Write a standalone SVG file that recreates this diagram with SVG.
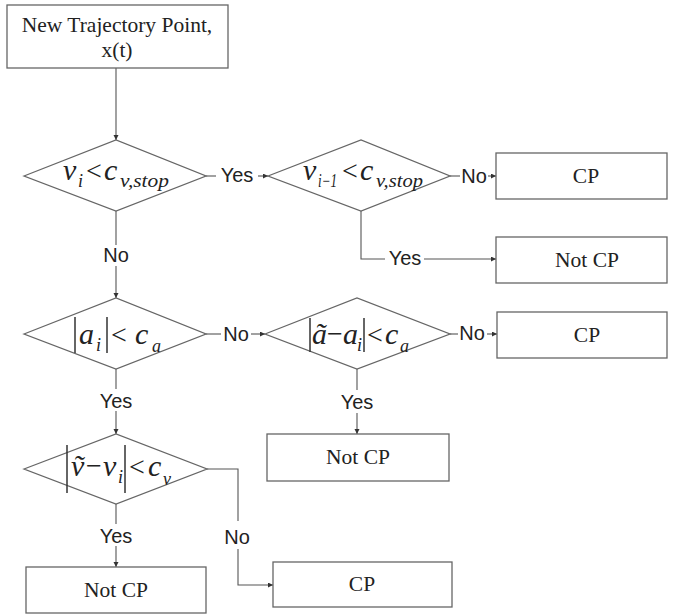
<svg xmlns="http://www.w3.org/2000/svg" width="673" height="615" viewBox="0 0 673 615">
<style>
.box{fill:#fff;stroke:#666;stroke-width:1.3}
.dia{fill:#fff;stroke:#666;stroke-width:1.3}
.bt{font-family:"Liberation Serif",serif;font-size:21.5px;fill:#222;text-anchor:middle}
.lb{font-family:"Liberation Sans",Arial,sans-serif;font-size:20px;fill:#222;text-anchor:middle}
.f{font-family:"Liberation Serif","DejaVu Serif",serif;fill:#222}
.m{font-style:italic;font-size:30px}
.s{font-style:italic;font-size:18px}
.r{font-style:normal;font-size:28px}
.bar{stroke:#333;stroke-width:1.5}
.c{fill:none;stroke:#555;stroke-width:1.1}
</style>
<defs>
<marker id="ah" markerUnits="userSpaceOnUse" markerWidth="6" markerHeight="6" refX="5" refY="2.5" orient="auto">
<path d="M0,0 L5,2.5 L0,5 z" fill="#333"/>
</marker>
</defs>
<rect width="673" height="615" fill="#fff"/>

<g id="connectors">
<path class="c" d="M116,68 V140" marker-end="url(#ah)"/>
<path class="c" d="M206,176 H216"/>
<path class="c" d="M258,176 H268" marker-end="url(#ah)"/>
<path class="c" d="M450,176 H460"/>
<path class="c" d="M488,176 H496" marker-end="url(#ah)"/>
<path class="c" d="M361,211 V259 H385"/>
<path class="c" d="M424,259 H496" marker-end="url(#ah)"/>
<path class="c" d="M116,211 V245"/>
<path class="c" d="M116,266 V298" marker-end="url(#ah)"/>
<path class="c" d="M206,334 H221"/>
<path class="c" d="M251,334 H265" marker-end="url(#ah)"/>
<path class="c" d="M450,334 H458"/>
<path class="c" d="M487,334 H497" marker-end="url(#ah)"/>
<path class="c" d="M357,369 V390"/>
<path class="c" d="M357,413 V434" marker-end="url(#ah)"/>
<path class="c" d="M116,369 V389"/>
<path class="c" d="M116,411 V434" marker-end="url(#ah)"/>
<path class="c" d="M207,469 H238 V521"/>
<path class="c" d="M238,549 V585 H273" marker-end="url(#ah)"/>
<path class="c" d="M116,504 V524"/>
<path class="c" d="M116,546 V567" marker-end="url(#ah)"/>
<text class="lb" x="237" y="182">Yes</text>
<text class="lb" x="474" y="183">No</text>
<text class="lb" x="405" y="265">Yes</text>
<text class="lb" x="116" y="262">No</text>
<text class="lb" x="236" y="341">No</text>
<text class="lb" x="472" y="340">No</text>
<text class="lb" x="357" y="409">Yes</text>
<text class="lb" x="116" y="408">Yes</text>
<text class="lb" x="116" y="543">Yes</text>
<text class="lb" x="237" y="544">No</text>
</g>

<g id="start">
<rect class="box" x="7" y="5" width="221" height="63"/>
<text class="bt" x="117" y="32">New Trajectory Point,</text>
<text class="bt" x="117" y="57">x(t)</text>
</g>

<g id="d1">
<polygon class="dia" points="24,176 116,140 206,176 116,211"/>
<text class="f"><tspan class="m" x="63" y="180">v</tspan><tspan class="s" x="78" y="187">i</tspan><tspan class="r" x="86" y="180">&lt;</tspan><tspan class="m" x="104" y="180">c</tspan><tspan class="s" x="120" y="187" textLength="49" lengthAdjust="spacingAndGlyphs">v,stop</tspan></text>
</g>

<g id="d2">
<polygon class="dia" points="268,176 361,140 450,176 361,211"/>
<text class="f"><tspan class="m" x="303" y="180">v</tspan><tspan class="s" x="318" y="187" textLength="19" lengthAdjust="spacingAndGlyphs">i−1</tspan><tspan class="r" x="342" y="180">&lt;</tspan><tspan class="m" x="360" y="180">c</tspan><tspan class="s" x="376" y="187" textLength="47" lengthAdjust="spacingAndGlyphs">v,stop</tspan></text>
</g>

<g id="cp1">
<rect class="box" x="496" y="153" width="171" height="46"/>
<text class="bt" x="586" y="183">CP</text>
</g>

<g id="notcp1">
<rect class="box" x="496" y="237" width="171" height="46"/>
<text class="bt" x="587" y="267">Not CP</text>
</g>

<g id="d3">
<polygon class="dia" points="24,334 116,298 206,334 116,369"/>
<line class="bar" x1="75" y1="317" x2="75" y2="353"/>
<line class="bar" x1="107" y1="317" x2="107" y2="353"/>
<text class="f"><tspan class="m" x="79" y="344">a</tspan><tspan class="s" x="96" y="351">i</tspan><tspan class="r" x="111" y="344">&lt;</tspan><tspan class="m" x="135" y="344">c</tspan><tspan class="s" x="152" y="352">a</tspan></text>
</g>

<g id="d4">
<polygon class="dia" points="265,334 357,298 450,334 357,369"/>
<line class="bar" x1="310" y1="318" x2="310" y2="352"/>
<line class="bar" x1="364" y1="318" x2="364" y2="352"/>
<text class="f"><tspan class="m" x="312" y="344">ã</tspan><tspan class="r" x="327" y="343">−</tspan><tspan class="m" x="343" y="344">a</tspan><tspan class="s" x="357" y="351">i</tspan><tspan class="r" x="367" y="344">&lt;</tspan><tspan class="m" x="385" y="344">c</tspan><tspan class="s" x="400" y="352">a</tspan></text>
</g>

<g id="cp2">
<rect class="box" x="497" y="312" width="170" height="46"/>
<text class="bt" x="587" y="342">CP</text>
</g>

<g id="notcp2">
<rect class="box" x="267" y="434" width="182" height="47"/>
<text class="bt" x="358" y="464">Not CP</text>
</g>

<g id="d5">
<polygon class="dia" points="24,469 116,434 207,469 116,504"/>
<line class="bar" x1="67" y1="445" x2="67" y2="493"/>
<line class="bar" x1="125" y1="445" x2="125" y2="493"/>
<text class="f"><tspan class="m" x="71" y="476">ṽ</tspan><tspan class="r" x="86" y="475">−</tspan><tspan class="m" x="103" y="476">v</tspan><tspan class="s" x="118" y="483">i</tspan><tspan class="r" x="129" y="476">&lt;</tspan><tspan class="m" x="148" y="476">c</tspan><tspan class="s" x="163" y="485">v</tspan></text>
</g>

<g id="notcp3">
<rect class="box" x="26" y="567" width="180" height="46"/>
<text class="bt" x="116" y="597">Not CP</text>
</g>

<g id="cp3">
<rect class="box" x="273" y="562" width="179" height="45"/>
<text class="bt" x="362" y="591">CP</text>
</g>
</svg>
